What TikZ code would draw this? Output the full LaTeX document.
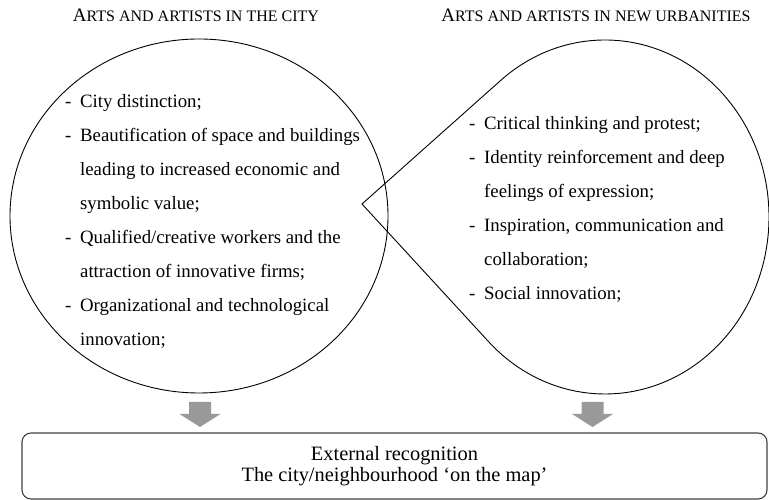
\documentclass[tikz,border=0pt]{standalone}
\usepackage{fontspec}
\setmainfont{Liberation Serif}
\usetikzlibrary{positioning}
\newcommand{\fakesc}[2]{{\fontsize{19}{22}\selectfont #1}{\fontsize{16}{22}\selectfont #2}}
\tikzset{
	heading/.style={anchor=base, inner sep=0pt},
	itemlist/.style={anchor=base west, inner sep=0pt, font=\fontsize{18.8}{34}\selectfont},
	recogbox/.style={draw=black!75, line width=1.1pt, rounded corners=9pt, align=center, inner sep=0pt, font=\fontsize{20.4}{21}\selectfont},
	blockarrow/.style={fill=black!40, draw=none},
	outline/.style={line width=0.9pt}
}
\begin{document}
\begin{tikzpicture}[x=1pt,y=1pt]
	\useasboundingbox (0,0) rectangle (769,500);
	% titles
	\node[heading] (cityhead) at (196,478) {\fakesc{A}{RTS AND ARTISTS IN THE CITY}};
	\node[heading] (urbanhead) at (596,478) {\fakesc{A}{RTS AND ARTISTS IN NEW URBANITIES}};
	% the circle and the drop
	\draw[outline] (199,284) ellipse [x radius=189, y radius=177];
	\draw[outline] (362,296) -- ([shift={(129.6:164 and 177)}]605,283)
		arc[start angle=129.6, end angle=-135.2, x radius=164, y radius=177] -- cycle;
	% lists
	\node[itemlist] (citylist) at (65,392) {\begin{tabular}[t]{@{}l@{\hspace{8.7pt}}l@{}}
		- & City distinction;\\
		- & Beautification of space and buildings\\
		  & leading to increased economic and\\
		  & symbolic value;\\
		- & Qualified/creative workers and the\\
		  & attraction of innovative firms;\\
		- & Organizational and technological\\
		  & innovation;
	\end{tabular}};
	\node[itemlist] (urbanlist) at (469,370) {\begin{tabular}[t]{@{}l@{\hspace{8.7pt}}l@{}}
		- & Critical thinking and protest;\\
		- & Identity reinforcement and deep\\
		  & feelings of expression;\\
		- & Inspiration, communication and\\
		  & collaboration;\\
		- & Social innovation;
	\end{tabular}};
	% bottom box
	\node[recogbox, minimum width=745pt, minimum height=66pt] (recog) at (394.5,34)
		{External recognition\\The city/neighbourhood ‘on the map’};
	% block arrows
	\foreach \cx in {200,592.5}
		\fill[blockarrow] ({\cx-11},98) -- ({\cx+11},98) -- ({\cx+11},86) -- ({\cx+20.5},86)
			-- (\cx,73) -- ({\cx-20.5},86) -- ({\cx-11},86) -- cycle;
\end{tikzpicture}
\end{document}
